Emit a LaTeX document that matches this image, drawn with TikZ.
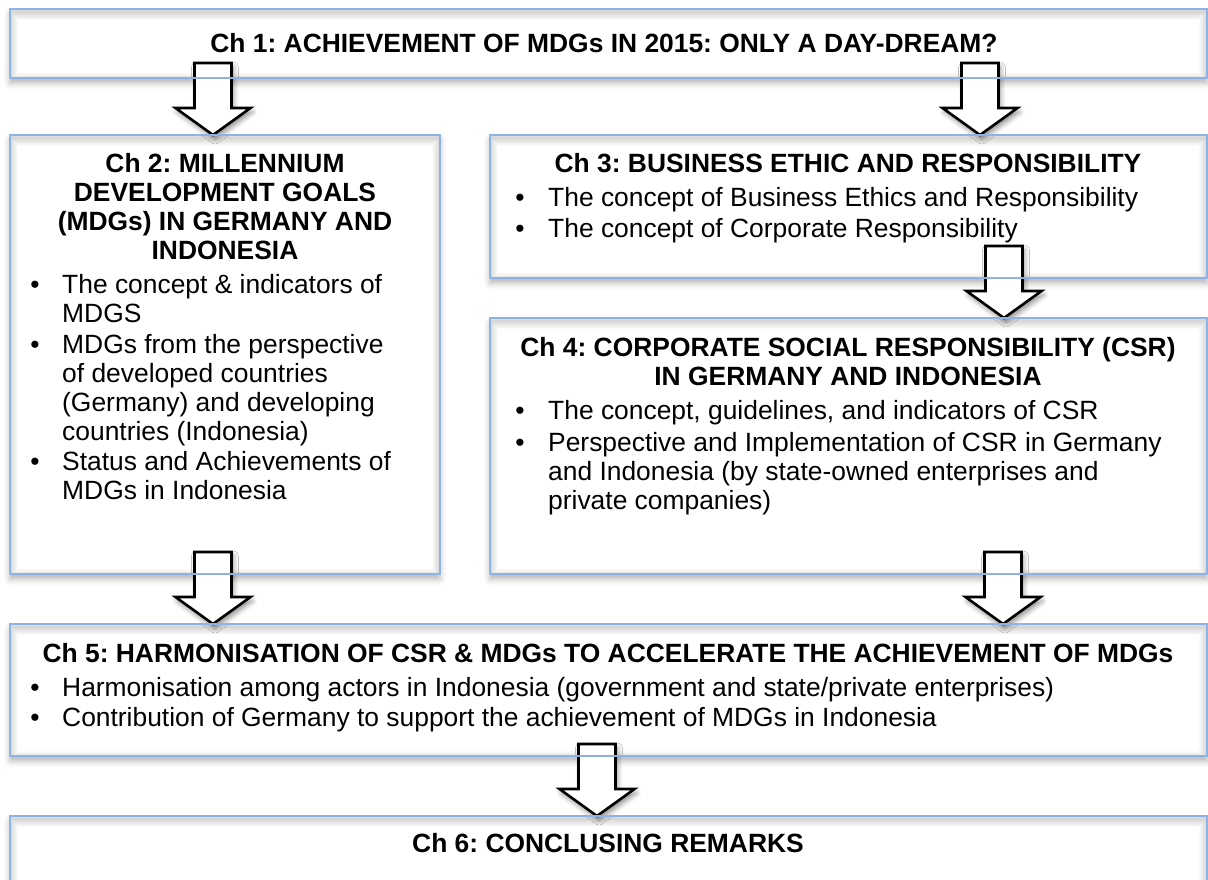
\documentclass[tikz,border=0pt]{standalone}
\usepackage{fontspec}
\setmainfont{Liberation Sans}
\usetikzlibrary{shadows.blur,calc}
\definecolor{bord}{HTML}{8DB3E2}
\frenchspacing
\tikzset{
  box/.style={draw=bord, line width=2pt, fill=white, inner sep=0pt, outer sep=0pt, anchor=north west,
    blur shadow={shadow xshift=0pt, shadow yshift=-5pt, shadow blur radius=6pt, shadow opacity=30}},
  arr/.style={draw=black, line width=2.6pt, fill=white, line join=miter,
    blur shadow={shadow xshift=2pt, shadow yshift=-4pt, shadow blur radius=5pt, shadow opacity=45}},
  hd/.style={inner sep=0pt, font=\fontsize{26.4}{29.3}\selectfont\bfseries},
  tx/.style={inner sep=0pt, font=\fontsize{26.4}{29.3}\selectfont},
  bul/.style={inner sep=0pt, anchor=base, font=\fontsize{26.4}{29.3}\selectfont},
  darrow/.pic={\draw[arr] (-18.5,-72) -- (18.5,-72) -- (18.5,-27) -- (37.5,-27) -- (0,0) -- (-37.5,-27) -- (-18.5,-27) -- cycle;}
}
\begin{document}
\begin{tikzpicture}[x=1pt,y=-1pt]
\useasboundingbox (0,0) rectangle (1208,880);
% boxes
\node[box, minimum width=1197pt, minimum height=69pt] (b1) at (10,9) {};
\node[box, minimum width=430pt, minimum height=439pt] (b2) at (10,135) {};
\node[box, minimum width=717pt, minimum height=143pt] (b3) at (490,135) {};
\node[box, minimum width=717pt, minimum height=256pt] (b4) at (490,318) {};
\node[box, minimum width=1197pt, minimum height=132pt] (b5) at (10,624) {};
\node[box, minimum width=1197pt, minimum height=90pt] (b6) at (10,816) {};
% inner shadows
\foreach \b in {b1,b2,b3,b4,b5,b6}{
  \begin{scope}
    \clip (\b.north west) rectangle (\b.south east);
    \foreach \w in {2,4,...,16}
      \draw[black, opacity=0.02, line width=\w pt] ([yshift=-3pt]\b.north west) rectangle ([yshift=-3pt]\b.south east);
  \end{scope}
}
% arrows
\pic at ($(b2.north west)+(203,0)$) {darrow};
\pic at ($(b3.north west)+(490,0)$) {darrow};
\pic at ($(b4.north west)+(514,0)$) {darrow};
\pic at ($(b5.north west)+(203,0)$) {darrow};
\pic at ($(b5.north west)+(993,0)$) {darrow};
\pic at ($(b6.north west)+(587,0)$) {darrow};
% borders on top
\foreach \b in {b1,b2,b3,b4,b5,b6}
  \draw[bord, line width=2pt] (\b.north west) rectangle (\b.south east);
% texts
\node[hd, anchor=base] (h1) at (604,53) {Ch 1: ACHIEVEMENT OF MDGs IN 2015: ONLY A DAY-DREAM?};
\node[hd, anchor=base] (h2) at (225,172) {\parbox[t]{420pt}{\centering Ch 2: MILLENNIUM\\DEVELOPMENT GOALS\\(MDGs) IN GERMANY AND\\INDONESIA}};
\node[bul] (p2a) at (35,293) {\textbullet};
\node[tx, anchor=base west] (t2a) at (62,293) {\parbox[t]{370pt}{\raggedright The concept \& indicators of\\MDGS}};
\node[bul] (p2b) at (35,353) {\textbullet};
\node[tx, anchor=base west] (t2b) at (62,353) {\parbox[t]{370pt}{\raggedright MDGs from the perspective\\of developed countries\\(Germany) and developing\\countries (Indonesia)}};
\node[bul] (p2c) at (35,470) {\textbullet};
\node[tx, anchor=base west] (t2c) at (62,470) {\parbox[t]{370pt}{\raggedright Status and Achievements of\\MDGs in Indonesia}};
\node[hd, anchor=base] (h3) at (848,172) {Ch 3: BUSINESS ETHIC AND RESPONSIBILITY};
\node[bul] (p3a) at (520,206) {\textbullet};
\node[tx, anchor=base west] (t3a) at (548,206) {The concept of Business Ethics and Responsibility};
\node[bul] (p3b) at (520,237) {\textbullet};
\node[tx, anchor=base west] (t3b) at (548,237) {The concept of Corporate Responsibility};
\node[hd, anchor=base] (h4) at (848,356) {\parbox[t]{760pt}{\centering Ch 4: CORPORATE SOCIAL RESPONSIBILITY (CSR)\\IN GERMANY AND INDONESIA}};
\node[bul] (p4a) at (520,419) {\textbullet};
\node[tx, anchor=base west] (t4a) at (548,419) {The concept, guidelines, and indicators of CSR};
\node[bul] (p4b) at (520,451) {\textbullet};
\node[tx, anchor=base west] (t4b) at (548,451) {\parbox[t]{700pt}{\raggedright Perspective and Implementation of CSR in Germany\\and Indonesia (by state-owned enterprises and\\private companies)}};
\node[hd, anchor=base] (h5) at (608,662) {Ch 5: HARMONISATION OF CSR \& MDGs TO ACCELERATE THE ACHIEVEMENT OF MDGs};
\node[bul] (p5a) at (35,696) {\textbullet};
\node[tx, anchor=base west] (t5a) at (62,696) {Harmonisation among actors in Indonesia (government and state/private enterprises)};
\node[bul] (p5b) at (35,726) {\textbullet};
\node[tx, anchor=base west] (t5b) at (62,726) {Contribution of Germany to support the achievement of MDGs in Indonesia};
\node[hd, anchor=base] (h6) at (608,852) {Ch 6: CONCLUSING REMARKS};
\end{tikzpicture}
\end{document}
